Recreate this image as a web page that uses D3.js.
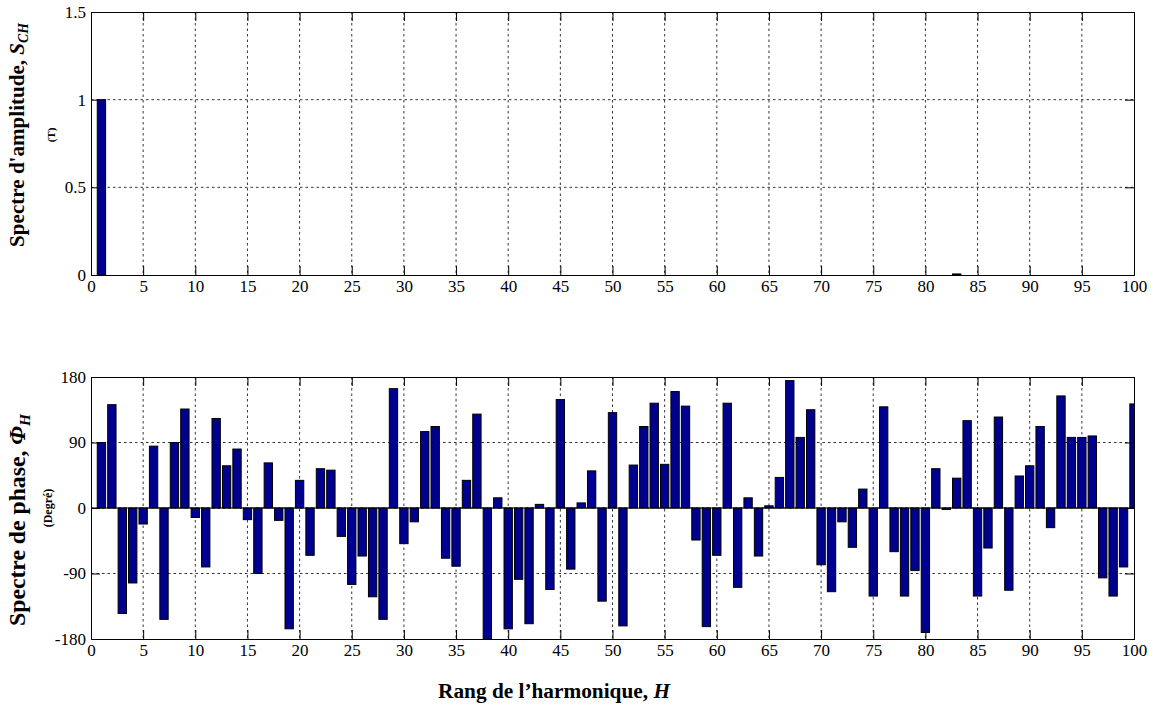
<!DOCTYPE html>
<html>
<head>
<meta charset="utf-8">
<script src="https://cdn.jsdelivr.net/npm/d3@7"></script>
<style>
  html, body { margin: 0; padding: 0; background: #fff; }
  svg { display: block; }
</style>
</head>
<body>
<svg id="chart" width="1154" height="713" font-family="Liberation Serif"></svg>
<script>
// ---- Data ----
const harmonics = d3.range(1, 101);
// Amplitude spectrum S_CH (T): fundamental only, plus a tiny residual at H=83
const amplitude = harmonics.map(h => h === 1 ? 1 : (h === 83 ? 0.006 : 0));
// Phase spectrum Phi_H (degrees), H = 1..100
const phase = [
  90, 142, -145, -103, -22, 85, -153, 90, 136, -13,
  -81, 123, 58, 81, -16, -90, 62, -17, -166, 38,
  -65, 54, 52, -39, -105, -66, -122, -153, 164, -49,
  -19, 105, 112, -69, -80, 38, 129, -180, 14, -166,
  -98, -159, 5, -112, 149, -84, 7, 51, -128, 131,
  -162, 59, 112, 144, 60, 160, 140, -44, -163, -65,
  144, -109, 14, -66, 3, 42, 175, 97, 135, -78,
  -115, -19, -54, 26, -121, 139, -60, -121, -86, -171,
  54, -2, 41, 120, -121, -55, 125, -113, 44, 58,
  112, -27, 154, 97, 97, 99, -96, -121, -81, 143
];
const xTicks = d3.range(0, 101, 5);
const ampTicks = [0, 0.5, 1, 1.5];
const phaseTicks = [-180, -90, 0, 90, 180];

// ---- Layout ----
const FONT = "Liberation Serif";
const svg = d3.select("#chart");
const left = 91, right = 1134;
const panels = [
  { top: 12, bottom: 275, domain: [0, 1.5], ticks: ampTicks, values: amplitude, fmt: d => String(d) },
  { top: 377, bottom: 639, domain: [-180, 180], ticks: phaseTicks, values: phase, fmt: d => String(d) }
];
const barColor = "#00008f";
const tickLen = 9;

const x = d3.scaleLinear().domain([0, 100]).range([left, right]);

panels.forEach((p, i) => {
  const y = d3.scaleLinear().domain(p.domain).range([p.bottom, p.top]);
  const g = svg.append("g");
  const clipId = "clip" + i;
  svg.append("defs").append("clipPath").attr("id", clipId)
    .append("rect").attr("x", left).attr("y", p.top).attr("width", right - left).attr("height", p.bottom - p.top);

  // grid
  const grid = g.append("g").attr("stroke", "#000").attr("stroke-width", 0.8).attr("stroke-dasharray", "2.5,3");
  xTicks.slice(1, -1).forEach(t => {
    grid.append("line").attr("x1", x(t)).attr("x2", x(t)).attr("y1", p.top).attr("y2", p.bottom);
  });
  p.ticks.slice(1, -1).forEach(t => {
    grid.append("line").attr("x1", left).attr("x2", right).attr("y1", y(t)).attr("y2", y(t));
  });

  // bars
  const bw = (x(0.8) - x(0));
  const data = harmonics.map((h, k) => ({ h, v: p.values[k] })).filter(d => d.v !== 0);
  g.append("g").attr("clip-path", `url(#${clipId})`)
    .selectAll("rect").data(data).join("rect")
    .attr("x", d => x(d.h) - bw / 2)
    .attr("width", bw)
    .attr("y", d => y(Math.max(0, d.v)))
    .attr("height", d => Math.abs(y(d.v) - y(0)))
    .attr("fill", barColor)
    .attr("stroke", "#000")
    .attr("stroke-width", 1);

  // zero baseline for phase
  if (p.domain[0] < 0) {
    g.append("line").attr("x1", left).attr("x2", right).attr("y1", y(0)).attr("y2", y(0))
      .attr("stroke", "#000").attr("stroke-width", 1);
  }

  // axes with inward ticks (box)
  const xb = d3.axisBottom(x).tickValues(xTicks).tickSize(-tickLen).tickPadding(5).tickFormat(d3.format("d"));
  const xt = d3.axisTop(x).tickValues(xTicks).tickSize(-tickLen).tickFormat("");
  const yl = d3.axisLeft(y).tickValues(p.ticks).tickSize(-tickLen).tickPadding(5).tickFormat(p.fmt);
  const yr = d3.axisRight(y).tickValues(p.ticks).tickSize(-tickLen).tickFormat("");

  [[xb, `translate(0,${p.bottom})`], [xt, `translate(0,${p.top})`],
   [yl, `translate(${left},0)`], [yr, `translate(${right},0)`]].forEach(([ax, tr]) => {
    const a = g.append("g").attr("transform", tr).call(ax);
    a.attr("font-family", FONT).attr("font-size", 17);
    a.select(".domain").attr("stroke", "#000").attr("stroke-width", 1);
    a.selectAll(".tick line").attr("stroke", "#000").attr("stroke-width", 1);
    a.selectAll(".tick text").attr("font-size", 17).attr("font-family", FONT).attr("fill", "#000");
  });
});

// ---- Axis titles ----
function title(tx, ty, rot, size) {
  return svg.append("text")
    .attr("transform", `translate(${tx},${ty})` + (rot ? " rotate(-90)" : ""))
    .attr("text-anchor", "middle")
    .attr("font-family", FONT)
    .attr("font-size", size).attr("font-weight", "bold").attr("fill", "#000");
}
// fit a title's font size so that its length matches the reference span
function fit(t, target, base) {
  const len = t.node().getComputedTextLength();
  const s = base * target / len;
  t.attr("font-size", s);
  t.selectAll("tspan.sub").attr("font-size", s * 0.65).attr("dy", s * 0.2);
}
const t1 = title(24, 135, true, 20);
t1.append("tspan").text("Spectre d'amplitude, ");
t1.append("tspan").attr("font-style", "italic").text("S");
t1.append("tspan").attr("class", "sub").attr("font-style", "italic").attr("font-size", 13).attr("dy", 4).text("CH");
fit(t1, 224, 20);

title(55, 135, true, 11).text("(T)");

const t2 = title(25, 520, true, 20);
t2.append("tspan").text("Spectre de phase, ");
t2.append("tspan").attr("font-style", "italic").text("Φ");
t2.append("tspan").attr("class", "sub").attr("font-style", "italic").attr("font-size", 13).attr("dy", 4).text("H");
fit(t2, 212, 20);

title(52, 508, true, 12).text("(Degré)");

const t3 = title(554, 698, false, 19);
t3.append("tspan").text("Rang de l’harmonique, ");
t3.append("tspan").attr("font-style", "italic").text("H");
fit(t3, 232, 19);
</script>
</body>
</html>
